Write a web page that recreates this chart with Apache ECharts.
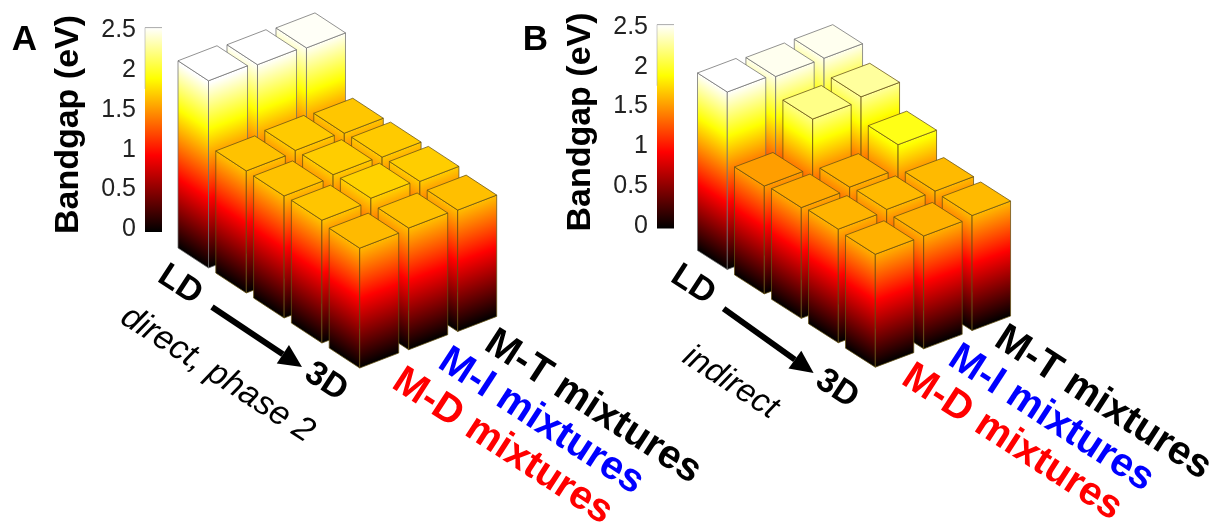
<!DOCTYPE html>
<html>
<head>
<meta charset="utf-8">
<style>html,body{margin:0;padding:0;background:#fff}#c{width:1217px;height:529px}</style>
<script src="https://cdn.jsdelivr.net/npm/echarts@6/dist/echarts.min.js"></script>
</head>
<body>
<div id="c"></div>
<script>
// ---- chart data (bandgap in eV), ordered from LD to 3D ----
const dimensionality = ['LD', '', '', '', '3D'];
const mixtures = ['M-D mixtures', 'M-I mixtures', 'M-T mixtures'];
const directMD = [2.53, 1.65, 1.65, 1.66, 1.62];
const directMI = [2.50, 1.68, 1.69, 1.71, 1.645];
const directMT = [2.48, 1.665, 1.68, 1.69, 1.64];
const indirectMD = [2.50, 1.52, 1.56, 1.60, 1.59];
const indirectMI = [2.46, 2.205, 1.59, 1.62, 1.59];
const indirectMT = [2.46, 2.26, 1.93, 1.62, 1.62];
const colorbarTicks = [0, 0.5, 1, 1.5, 2, 2.5];
const mixtureColors = ['#ff0000', '#0000ff', '#000000'];

const FONT = '"Liberation Sans", Arial, sans-serif';
const CMAX = colorbarTicks[colorbarTicks.length - 1];

// Oblique projections, in axis units (x: one LD pitch, y: eV)
const PROJ_A = { stepLD: [1, -0.338], stepMix: [1.296, 0.247], edgeLD: [0.807, -0.27], edgeMix: [1.032, 0.203] };
const PROJ_B = { stepLD: [1, -0.344], stepMix: [1.308, 0.258], edgeLD: [0.805, -0.268], edgeMix: [1.04, 0.204] };

function hot(v) {
  const t = Math.max(0, Math.min(1, v / CMAX));
  const r = Math.min(1, t / 0.375);
  const g = Math.max(0, Math.min(1, (t - 0.375) / 0.375));
  const b = Math.max(0, Math.min(1, (t - 0.75) / 0.25));
  return 'rgb(' + Math.round(r * 255) + ',' + Math.round(g * 255) + ',' + Math.round(b * 255) + ')';
}
function hotStops(v) {
  const nodes = [0, CMAX * 0.375, CMAX * 0.75, CMAX].filter(function (n) { return n < v; });
  nodes.push(v);
  return nodes.map(function (n) { return { offset: n / v, color: hot(n) }; });
}
function faceGradient(foot, along, height, v) {
  const ex = along[0] - foot[0], ey = along[1] - foot[1];
  const len = Math.hypot(ex, ey);
  const nx = ey / len, ny = -ex / len;
  const d = height * ex / len;
  return new echarts.graphic.LinearGradient(foot[0], foot[1], foot[0] + nx * d, foot[1] + ny * d, hotStops(v), true);
}
function barRenderer(proj) {
  return function (params, api) {
    const i = api.value(0), j = api.value(1), v = api.value(2);
    const bx = i * proj.stepLD[0] + j * proj.stepMix[0], by = i * proj.stepLD[1] + j * proj.stepMix[1];
    const L = proj.edgeLD, M = proj.edgeMix;
    const P = function (dx, dy, h) { return api.coord([bx + dx, by + dy + h]); };
    const fl = P(0, 0, 0), ff = P(L[0], L[1], 0), fr = P(L[0] + M[0], L[1] + M[1], 0);
    const tl = P(0, 0, v), tf = P(L[0], L[1], v), tr = P(L[0] + M[0], L[1] + M[1], v), tb = P(M[0], M[1], v);
    const H = fl[1] - tl[1];
    const edge = v > 2.3 ? 'rgba(110,110,110,0.75)' : 'rgba(100,80,20,0.75)';
    const poly = function (pts, fill) {
      return { type: 'polygon', shape: { points: pts }, style: { fill: fill, stroke: edge, lineWidth: 1 } };
    };
    return {
      type: 'group',
      children: [
        poly([fl, ff, tf, tl], faceGradient(fl, ff, H, v)),
        poly([ff, fr, tr, tf], faceGradient(ff, fr, H, v)),
        poly([tl, tf, tr, tb], hot(v))
      ]
    };
  };
}
function renderColorbar(params, api) {
  const a = api.coord([0, -0.03]), b = api.coord([1, CMAX + 0.03]);
  const x = a[0], w = b[0] - a[0], y = b[1], h = a[1] - b[1];
  return {
    type: 'group',
    children: [
      { type: 'rect', shape: { x: x, y: y, width: w, height: h },
        style: { fill: new echarts.graphic.LinearGradient(0, 1, 0, 0, hotStops(CMAX)) } },
      { type: 'line', shape: { x1: x, y1: y, x2: x + w, y2: y }, style: { stroke: '#aaa', lineWidth: 1 } },
      { type: 'line', shape: { x1: x, y1: y, x2: x, y2: y + h * 0.3 }, style: { stroke: 'rgba(170,170,170,0.6)', lineWidth: 1 } }
    ]
  };
}
function cells(rows) {
  const out = [];
  for (let j = rows.length - 1; j >= 0; j--) {
    for (let i = 0; i < rows[j].length; i++) out.push([i, j, rows[j][i]]);
  }
  return out;
}

const panels = [
  { rows: [directMD, directMI, directMT], proj: PROJ_A, left: 178, width: 378, top: 3.8, yMin: -3.8, yMax: 3.3, cbLeft: 145, cbTop: 30, cbHeight: 199.5 },
  { rows: [indirectMD, indirectMI, indirectMT], proj: PROJ_B, left: 697.5, width: 370, top: 5.5, yMin: -3.95, yMax: 3.45, cbLeft: 657, cbTop: 27, cbHeight: 199 }
];
const grid = [], xAxis = [], yAxis = [], series = [];
panels.forEach(function (p) {
  const g = grid.length;
  grid.push({ left: p.left, top: p.top, width: p.width, height: 525.4, outerBoundsMode: 'none' });
  xAxis.push({ type: 'value', gridIndex: g, min: 0, max: 10, show: false });
  yAxis.push({ type: 'value', gridIndex: g, min: p.yMin, max: p.yMax, show: false });
  series.push({ type: 'custom', xAxisIndex: g, yAxisIndex: g, renderItem: barRenderer(p.proj), clip: false, silent: true,
    encode: { x: 0, y: 2 }, data: cells(p.rows) });
  grid.push({ left: p.cbLeft, top: p.cbTop, width: 17, height: p.cbHeight, outerBoundsMode: 'none' });
  xAxis.push({ type: 'value', gridIndex: g + 1, min: 0, max: 1, show: false });
  yAxis.push({
    type: 'value', gridIndex: g + 1, min: colorbarTicks[0], max: CMAX, interval: colorbarTicks[1],
    axisLine: { show: false }, splitLine: { show: false },
    axisTick: { show: true, inside: true, length: 2, lineStyle: { color: 'rgba(120,120,120,0.6)' } },
    axisLabel: { fontFamily: FONT, fontSize: 25, color: '#222', margin: 9 }
  });
  series.push({ type: 'custom', xAxisIndex: g + 1, yAxisIndex: g + 1, renderItem: renderColorbar, clip: false, silent: true,
    z: 1, encode: { y: 0 }, data: [[0]] });
});

const ANGLE = -33 * Math.PI / 180;
function label(text, x, y, size, opts) {
  opts = opts || {};
  return {
    type: 'text', x: x, y: y, rotation: opts.rotation !== undefined ? opts.rotation : ANGLE, silent: true, z: 10,
    style: { text: text, fill: opts.color || '#000', align: 'center', verticalAlign: 'middle',
      font: (opts.italic ? 'italic ' : 'bold ') + size + 'px ' + FONT }
  };
}
function arrow(x1, y1, x2, y2) {
  const L = Math.hypot(x2 - x1, y2 - y1), ux = (x2 - x1) / L, uy = (y2 - y1) / L;
  const bx = x2 - ux * 23, by = y2 - uy * 23;
  return [
    { type: 'line', silent: true, z: 10, shape: { x1: x1, y1: y1, x2: bx, y2: by }, style: { stroke: '#000', lineWidth: 6 } },
    { type: 'polygon', silent: true, z: 10, shape: { points: [[x2, y2], [bx - uy * 11, by + ux * 11], [bx + uy * 11, by - ux * 11]] }, style: { fill: '#000' } }
  ];
}
const graphic = [
  label('A', 24.5, 40, 35, { rotation: 0 }),
  label('B', 535.5, 40, 35, { rotation: 0 }),
  label('Bandgap (eV)', 68.5, 124.5, 34, { rotation: Math.PI / 2 }),
  label('Bandgap (eV)', 581, 122, 34, { rotation: Math.PI / 2 }),
  label(dimensionality[0], 180, 285, 34),
  label(dimensionality[4], 326, 382, 34),
  label(dimensionality[0], 693, 285, 34),
  label(dimensionality[4], 837, 389, 34),
  label('direct, phase 2', 217.5, 374.5, 34, { italic: true }),
  label('indirect', 730.5, 382.5, 33, { italic: true }),
  label(mixtures[2], 593, 407, 40, { color: mixtureColors[2] }),
  label(mixtures[1], 541, 421.5, 40, { color: mixtureColors[1] }),
  label(mixtures[0], 502.5, 446.5, 40, { color: mixtureColors[0] }),
  label(mixtures[2], 1103, 403, 40, { color: mixtureColors[2] }),
  label(mixtures[1], 1051, 418.5, 40, { color: mixtureColors[1] }),
  label(mixtures[0], 1012, 442.5, 40, { color: mixtureColors[0] })
].concat(arrow(212, 307, 302, 367), arrow(723.6, 308.6, 813.6, 373));

const chart = echarts.init(document.getElementById('c'), null, { renderer: 'canvas' });
chart.setOption({
  animation: false, backgroundColor: '#fff', tooltip: { show: false },
  grid: grid, xAxis: xAxis, yAxis: yAxis, series: series, graphic: graphic
});
</script>
</body>
</html>
